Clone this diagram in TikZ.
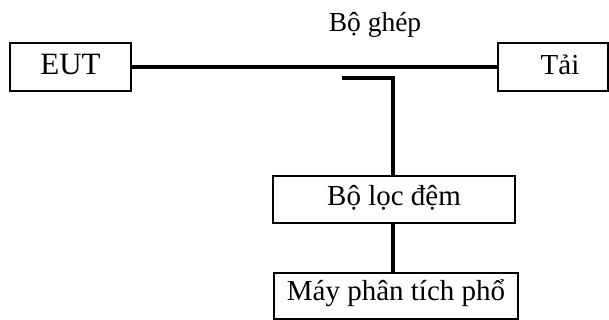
\documentclass[tikz,border=0pt]{standalone}
\usepackage{fontspec}
\setmainfont{Liberation Serif}
\begin{document}
\begin{tikzpicture}[x=1pt,y=-1pt,
  blk/.style={draw,line width=1.3pt,inner sep=0pt},
  lbl/.style={font=\fontsize{29}{34}\selectfont,anchor=base,inner sep=0pt},
  wire/.style={line width=4pt}]
\useasboundingbox (0,0) rectangle (609,320);
% boxes
\node[blk,minimum width=121pt,minimum height=48pt] (eut) at (70.5,67) {};
\node[blk,minimum width=110pt,minimum height=48pt] (tai) at (553,67) {};
\node[blk,minimum width=242pt,minimum height=47pt] (loc) at (394,199.5) {};
\node[blk,minimum width=244pt,minimum height=46pt] (may) at (396,296) {};
% labels
\node[lbl,font=\fontsize{31}{36}\selectfont] (teut) at (70.5,75) {EUT};
\node[lbl] (ttai) at (560,75) {Tải};
\node[lbl] (tloc) at (394,205) {Bộ lọc đệm};
\node[lbl] (tmay) at (396,300) {Máy phân tích phổ};
\node[lbl,font=\fontsize{27.5}{32}\selectfont] (tghep) at (375,32) {Bộ ghép};
% wires
\coordinate (c1) at (342,78);
\coordinate (c2) at (393,78);
\draw[wire] (eut.east) -- (tai.west);
\draw[wire] (c1) -- (c2) -- (c2 |- loc.north);
\draw[wire] (c2 |- loc.south) -- (c2 |- may.north);
\end{tikzpicture}
\end{document}
